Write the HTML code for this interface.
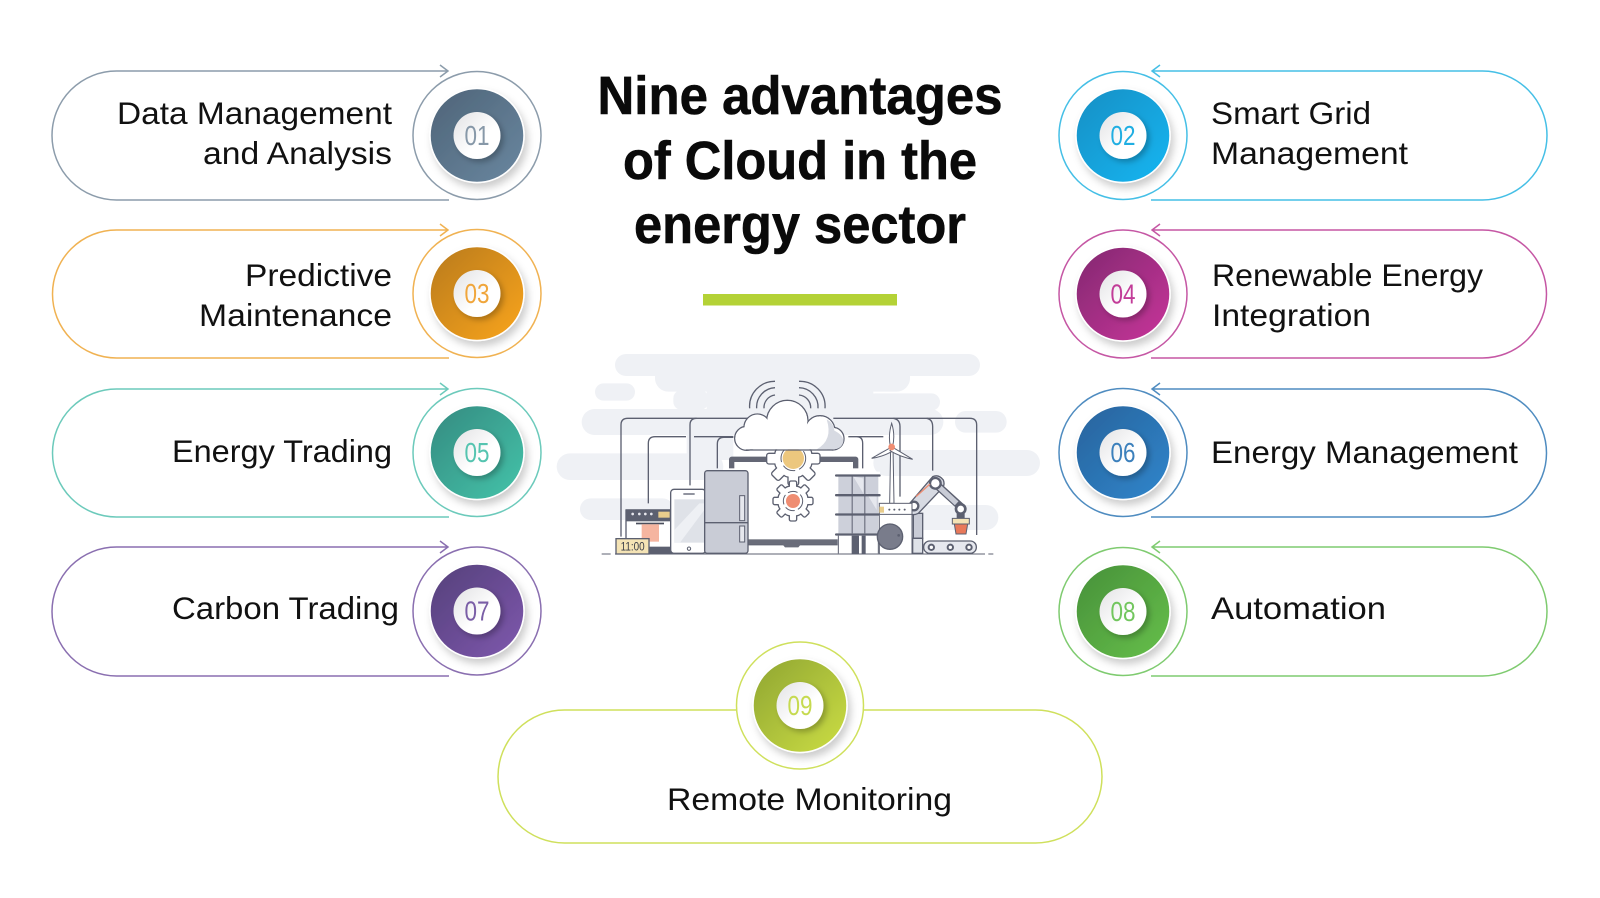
<!DOCTYPE html>
<html><head><meta charset="utf-8"><style>
html,body{margin:0;padding:0;background:#fff;width:1600px;height:898px;overflow:hidden}
svg{display:block}
.t{font-family:"Liberation Sans",sans-serif;font-size:31.5px;fill:#111}
.h{font-family:"Liberation Sans",sans-serif;font-size:54px;font-weight:bold;fill:#0a0a0a;stroke:#0a0a0a;stroke-width:.6;text-anchor:middle}
.n{font-family:"Liberation Sans",sans-serif;font-size:28px;text-anchor:middle}
.w{fill:none;stroke:#5c6070;stroke-width:4}
.l{stroke:#5c6070;stroke-width:4}
</style></head><body>
<svg width="1600" height="898" viewBox="0 0 1600 898" xmlns="http://www.w3.org/2000/svg">
<defs>
<filter id="s" x="-30%" y="-30%" width="170%" height="170%"><feDropShadow dx="3" dy="5" stdDeviation="4" flood-color="#000" flood-opacity=".2"/></filter>
<filter id="s2" x="-40%" y="-40%" width="190%" height="190%"><feDropShadow dx="3" dy="3" stdDeviation="3" flood-color="#000" flood-opacity=".25"/></filter>
<linearGradient id="in" x1="0" y1="0" x2="1" y2="1"><stop offset="0" stop-color="#e2e2e4"/><stop offset=".6" stop-color="#fff"/></linearGradient>
<linearGradient id="g1" x1="0" y1="0" x2="1" y2="1"><stop offset="0" stop-color="#4e6478"/><stop offset="1" stop-color="#6a87a0"/></linearGradient>
<linearGradient id="g2" x1="0" y1="0" x2="1" y2="1"><stop offset="0" stop-color="#1a8fc4"/><stop offset="1" stop-color="#10b6f2"/></linearGradient>
<linearGradient id="g3" x1="0" y1="0" x2="1" y2="1"><stop offset="0" stop-color="#b87a1c"/><stop offset="1" stop-color="#faa51e"/></linearGradient>
<linearGradient id="g4" x1="0" y1="0" x2="1" y2="1"><stop offset="0" stop-color="#822a70"/><stop offset="1" stop-color="#c8339a"/></linearGradient>
<linearGradient id="g5" x1="0" y1="0" x2="1" y2="1"><stop offset="0" stop-color="#348a80"/><stop offset="1" stop-color="#45c4aa"/></linearGradient>
<linearGradient id="g6" x1="0" y1="0" x2="1" y2="1"><stop offset="0" stop-color="#28639c"/><stop offset="1" stop-color="#3086cc"/></linearGradient>
<linearGradient id="g7" x1="0" y1="0" x2="1" y2="1"><stop offset="0" stop-color="#54407a"/><stop offset="1" stop-color="#7f58ae"/></linearGradient>
<linearGradient id="g8" x1="0" y1="0" x2="1" y2="1"><stop offset="0" stop-color="#47903a"/><stop offset="1" stop-color="#66c04a"/></linearGradient>
<linearGradient id="g9" x1="0" y1="0" x2="1" y2="1"><stop offset="0" stop-color="#8fa532"/><stop offset="1" stop-color="#ccde44"/></linearGradient>
</defs>

<!-- Title -->
<text class="h" x="800" y="114" textLength="405" lengthAdjust="spacingAndGlyphs">Nine advantages</text>
<text class="h" x="800" y="179" textLength="354" lengthAdjust="spacingAndGlyphs">of Cloud in the</text>
<text class="h" x="800" y="243" textLength="332" lengthAdjust="spacingAndGlyphs">energy sector</text>
<rect x="703" y="294" width="194" height="11.5" fill="#b4d236"/>

<!-- Left pills -->
<g fill="none" stroke-width="1.5">
<path stroke="#8c9cab" d="M448 71H116.5A64.5 64.5 0 0 0 116.5 200H449M440 65L448 71L440 77"/>
<path stroke="#f0b252" d="M448 230H116.5A64 64 0 0 0 116.5 358H449M440 224L448 230L440 236"/>
<path stroke="#6ccabb" d="M448 389H116.5A64 64 0 0 0 116.5 517H449M440 383L448 389L440 395"/>
<path stroke="#8a6fb0" d="M448 547H116.5A64.5 64.5 0 0 0 116.5 676H449M440 541L448 547L440 553"/>
<!-- Right pills -->
<path stroke="#45bfe6" d="M1152 71H1482.5A64.5 64.5 0 0 1 1482.5 200H1151M1160 65L1152 71L1160 77"/>
<path stroke="#c557a4" d="M1152 230H1482.5A64 64 0 0 1 1482.5 358H1151M1160 224L1152 230L1160 236"/>
<path stroke="#4f8cc0" d="M1152 389H1482.5A64 64 0 0 1 1482.5 517H1151M1160 383L1152 389L1160 395"/>
<path stroke="#7fcb70" d="M1152 547H1482.5A64.5 64.5 0 0 1 1482.5 676H1151M1160 541L1152 547L1160 553"/>
<!-- Pill 9 -->
<path stroke="#cfe05c" d="M737 710H564.5A66.5 66.5 0 0 0 564.5 843H1035.5A66.5 66.5 0 0 0 1035.5 710H863"/>
</g>

<!-- Badges -->
<g fill="#fff" stroke-width="1.5">
<circle cx="477" cy="135.5" r="64" stroke="#8c9cab"/>
<circle cx="477" cy="293.5" r="64" stroke="#f0b252"/>
<circle cx="477" cy="452.5" r="64" stroke="#6ccabb"/>
<circle cx="477" cy="611" r="64" stroke="#8a6fb0"/>
<circle cx="1123" cy="135.5" r="64" stroke="#45bfe6"/>
<circle cx="1123" cy="294" r="64" stroke="#c557a4"/>
<circle cx="1123" cy="452.5" r="64" stroke="#4f8cc0"/>
<circle cx="1123" cy="611.5" r="64" stroke="#7fcb70"/>
<circle cx="800" cy="705.5" r="63.5" stroke="#cfe05c"/>
</g>
<g filter="url(#s)" stroke="#fff" stroke-width="1.5">
<circle cx="477" cy="135.5" r="47" fill="url(#g1)"/>
<circle cx="477" cy="293.5" r="47" fill="url(#g3)"/>
<circle cx="477" cy="452.5" r="47" fill="url(#g5)"/>
<circle cx="477" cy="611" r="47" fill="url(#g7)"/>
<circle cx="1123" cy="135.5" r="47" fill="url(#g2)"/>
<circle cx="1123" cy="294" r="47" fill="url(#g4)"/>
<circle cx="1123" cy="452.5" r="47" fill="url(#g6)"/>
<circle cx="1123" cy="611.5" r="47" fill="url(#g8)"/>
<circle cx="800" cy="705.5" r="47" fill="url(#g9)"/>
</g>
<g filter="url(#s2)" fill="url(#in)">
<circle cx="477" cy="135.5" r="23.5"/>
<circle cx="477" cy="293.5" r="23.5"/>
<circle cx="477" cy="452.5" r="23.5"/>
<circle cx="477" cy="611" r="23.5"/>
<circle cx="1123" cy="135.5" r="23.5"/>
<circle cx="1123" cy="294" r="23.5"/>
<circle cx="1123" cy="452.5" r="23.5"/>
<circle cx="1123" cy="611.5" r="23.5"/>
<circle cx="800" cy="705.5" r="23.5"/>
</g>
<g class="nums">
<text class="n" fill="#8798a8" x="477" y="145" textLength="25" lengthAdjust="spacingAndGlyphs">01</text>
<text class="n" fill="#f0a63c" x="477" y="303" textLength="25" lengthAdjust="spacingAndGlyphs">03</text>
<text class="n" fill="#55c4b0" x="477" y="462" textLength="25" lengthAdjust="spacingAndGlyphs">05</text>
<text class="n" fill="#7a5ea6" x="477" y="620.5" textLength="25" lengthAdjust="spacingAndGlyphs">07</text>
<text class="n" fill="#20aee2" x="1123" y="145" textLength="25" lengthAdjust="spacingAndGlyphs">02</text>
<text class="n" fill="#c23c98" x="1123" y="303.5" textLength="25" lengthAdjust="spacingAndGlyphs">04</text>
<text class="n" fill="#3c80bc" x="1123" y="462" textLength="25" lengthAdjust="spacingAndGlyphs">06</text>
<text class="n" fill="#72c65e" x="1123" y="621" textLength="25" lengthAdjust="spacingAndGlyphs">08</text>
<text class="n" fill="#c6da50" x="800" y="715" textLength="25" lengthAdjust="spacingAndGlyphs">09</text>
</g>

<!-- Labels -->
<g class="labels">
<text class="t" x="117" y="124" textLength="275" lengthAdjust="spacingAndGlyphs">Data Management</text>
<text class="t" x="203" y="164" textLength="189" lengthAdjust="spacingAndGlyphs">and Analysis</text>
<text class="t" x="245" y="286" textLength="147" lengthAdjust="spacingAndGlyphs">Predictive</text>
<text class="t" x="199" y="326" textLength="193" lengthAdjust="spacingAndGlyphs">Maintenance</text>
<text class="t" x="172" y="462" textLength="220" lengthAdjust="spacingAndGlyphs">Energy Trading</text>
<text class="t" x="172" y="619" textLength="227" lengthAdjust="spacingAndGlyphs">Carbon Trading</text>
<text class="t" x="1211" y="124" textLength="160" lengthAdjust="spacingAndGlyphs">Smart Grid</text>
<text class="t" x="1211" y="164" textLength="197" lengthAdjust="spacingAndGlyphs">Management</text>
<text class="t" x="1212" y="286" textLength="271" lengthAdjust="spacingAndGlyphs">Renewable Energy</text>
<text class="t" x="1212" y="326" textLength="159" lengthAdjust="spacingAndGlyphs">Integration</text>
<text class="t" x="1211" y="463" textLength="307" lengthAdjust="spacingAndGlyphs">Energy Management</text>
<text class="t" x="1211" y="619" textLength="175" lengthAdjust="spacingAndGlyphs">Automation</text>
<text class="t" x="667" y="810" textLength="285" lengthAdjust="spacingAndGlyphs">Remote Monitoring</text>
</g>

<!-- Illustration (coordinates at 3x) -->
<g transform="translate(540 340) scale(.33333)">
<g fill="#eff1f5">
<rect x="225" y="42" width="1095" height="66" rx="33"/>
<rect x="345" y="70" width="765" height="85" rx="40"/>
<rect x="165" y="130" width="120" height="52" rx="26"/>
<rect x="400" y="150" width="105" height="60" rx="25"/>
<rect x="500" y="120" width="500" height="100"/>
<rect x="980" y="160" width="220" height="52" rx="26"/>
<rect x="125" y="207" width="1085" height="78" rx="39"/>
<rect x="1245" y="213" width="155" height="65" rx="32"/>
<rect x="440" y="270" width="140" height="90"/>
<rect x="50" y="340" width="500" height="80" rx="40"/>
<rect x="1000" y="330" width="500" height="78" rx="39"/>
<rect x="120" y="475" width="280" height="65" rx="32"/>
<rect x="1100" y="495" width="275" height="75" rx="37"/>
</g>
<!-- wires -->
<g class="w">
<path d="M243 590V255Q243 235 263 235H622"/>
<path d="M325 490V310Q325 290 345 290H438M462 290H580"/>
<path d="M450 436V255Q450 235 470 235"/>
<path d="M532 385V312Q532 292 552 292H580"/>
<path d="M880 235H1290Q1310 235 1310 255V585"/>
<path d="M925 290H950Q968 290 968 310V385M950 290H1030"/>
<path d="M1060 235Q1080 238 1080 260V470"/>
<path d="M1160 235Q1178 238 1178 260V392"/>
<!-- signal -->
<path d="M629 205A75 75 0 0 1 705 124"/>
<path d="M650 205A58 58 0 0 1 705 143"/>
<path d="M672 205A38 38 0 0 1 705 165"/>
<path d="M855 205A75 75 0 0 0 777 124"/>
<path d="M834 205A58 58 0 0 0 777 143"/>
<path d="M812 205A38 38 0 0 0 777 165"/>
</g>
<!-- laptop -->
<rect x="575" y="358" width="372" height="250" fill="#fff" stroke="#646775" stroke-width="16" stroke-linejoin="round"/>
<rect x="560" y="385" width="50" height="250" fill="#fff"/>
<rect x="915" y="385" width="50" height="250" fill="#fff"/>
<rect x="625" y="598" width="270" height="14" fill="#6a6d7a"/>
<path d="M725 610H785L775 622H735Z" fill="#6a6d7a"/>
<!-- upper gear -->
<g fill="#fff" stroke="#5c6070" stroke-width="4">
<circle cx="760" cy="356" r="58"/>
<rect x="744" y="276" width="32" height="40" rx="7" transform="rotate(0 760 356)"/>
<rect x="744" y="276" width="32" height="40" rx="7" transform="rotate(45 760 356)"/>
<rect x="744" y="276" width="32" height="40" rx="7" transform="rotate(90 760 356)"/>
<rect x="744" y="276" width="32" height="40" rx="7" transform="rotate(135 760 356)"/>
<rect x="744" y="276" width="32" height="40" rx="7" transform="rotate(180 760 356)"/>
<rect x="744" y="276" width="32" height="40" rx="7" transform="rotate(225 760 356)"/>
<rect x="744" y="276" width="32" height="40" rx="7" transform="rotate(270 760 356)"/>
<rect x="744" y="276" width="32" height="40" rx="7" transform="rotate(315 760 356)"/>
<circle cx="760" cy="356" r="56" stroke="none"/>
</g>
<circle cx="760" cy="355" r="37" fill="none" stroke="#5c6070" stroke-width="3" stroke-dasharray="40 12"/>
<circle cx="760" cy="355" r="32" fill="#ecc77e"/>
<!-- lower gear -->
<g fill="#fff" stroke="#5c6070" stroke-width="4">
<circle cx="759" cy="483" r="46"/>
<rect x="748" y="423" width="22" height="30" rx="5" transform="rotate(0 759 483)"/>
<rect x="748" y="423" width="22" height="30" rx="5" transform="rotate(45 759 483)"/>
<rect x="748" y="423" width="22" height="30" rx="5" transform="rotate(90 759 483)"/>
<rect x="748" y="423" width="22" height="30" rx="5" transform="rotate(135 759 483)"/>
<rect x="748" y="423" width="22" height="30" rx="5" transform="rotate(180 759 483)"/>
<rect x="748" y="423" width="22" height="30" rx="5" transform="rotate(225 759 483)"/>
<rect x="748" y="423" width="22" height="30" rx="5" transform="rotate(270 759 483)"/>
<rect x="748" y="423" width="22" height="30" rx="5" transform="rotate(315 759 483)"/>
<circle cx="759" cy="483" r="44" stroke="none"/>
</g>
<circle cx="759" cy="483" r="29" fill="none" stroke="#5c6070" stroke-width="3" stroke-dasharray="30 10"/>
<circle cx="759" cy="483" r="21" fill="#ef8d72"/>
<!-- cloud -->
<g fill="#fff" stroke="#5c6070" stroke-width="4">
<circle cx="620" cy="295" r="36"/><circle cx="652" cy="262" r="40"/><circle cx="742" cy="243" r="62"/><circle cx="840" cy="272" r="45"/><circle cx="878" cy="296" r="34"/>
</g>
<g fill="#fff">
<circle cx="620" cy="295" r="34"/><circle cx="652" cy="262" r="38"/><circle cx="742" cy="243" r="60"/><circle cx="840" cy="272" r="43"/><circle cx="878" cy="296" r="32"/>
<rect x="620" y="260" width="258" height="68"/>
</g>
<path d="M860 238A43 43 0 0 1 883 272Q910 285 910 305Q905 328 878 328H830Q880 300 860 238Z" fill="#d7dae2"/>
<path d="M618 330H880" class="w"/>
<!-- oven -->
<rect x="258" y="510" width="136" height="130" fill="#fff" stroke="#5c6070" stroke-width="4"/>
<rect x="258" y="508" width="136" height="36" fill="#5c6070"/>
<rect x="355" y="515" width="34" height="18" fill="#e9cd8c"/>
<g fill="#e8e8ee"><circle cx="278" cy="522" r="4"/><circle cx="298" cy="522" r="4"/><circle cx="316" cy="522" r="4"/><circle cx="334" cy="522" r="4"/></g>
<rect x="288" y="548" width="84" height="5" fill="#4a4e5c"/>
<rect x="305" y="553" width="52" height="52" fill="#f5b5a0"/>
<rect x="300" y="620" width="94" height="20" fill="#5c6070"/>
<!-- clock -->
<rect x="228" y="596" width="99" height="46" fill="#f4e3b5" stroke="#5c6070" stroke-width="4"/>
<text x="278" y="631" font-family="'Liberation Sans',sans-serif" font-size="36" fill="#3a3d48" text-anchor="middle" textLength="72" lengthAdjust="spacingAndGlyphs">11:00</text>
<!-- tablet -->
<rect x="392" y="448" width="105" height="192" rx="10" fill="#fff" stroke="#5c6070" stroke-width="4"/>
<rect x="403" y="478" width="90" height="130" fill="#dfe2e8"/>
<path d="M403 570L478 490H493V510L420 608H403Z" fill="#eef0f4"/>
<rect x="430" y="460" width="34" height="4" fill="#5c6070"/>
<circle cx="447" cy="626" r="5" fill="none" stroke="#5c6070" stroke-width="3"/>
<!-- fridge -->
<rect x="494" y="392" width="130" height="248" rx="8" fill="#c9ccd6" stroke="#5c6070" stroke-width="4"/>
<path d="M494 548H624" class="l"/>
<rect x="599" y="467" width="15" height="75" fill="#e6e8ee" stroke="#5c6070" stroke-width="3"/>
<rect x="599" y="558" width="15" height="48" fill="#e6e8ee" stroke="#5c6070" stroke-width="3"/>
<!-- turbine -->
<path d="M1049 490L1052 320H1059L1062 490Z" fill="#fff" stroke="#5c6070" stroke-width="3"/>
<g fill="#fff" stroke="#5c6070" stroke-width="3">
<path d="M1055 250Q1066 285 1058 318H1051Q1044 285 1055 250Z"/>
<path d="M1053 322L995 355Q1030 350 1060 332Z"/>
<path d="M1058 322L1118 358Q1080 350 1050 332Z"/>
</g>
<circle cx="1055" cy="321" r="10" fill="#ef8d72"/>
<!-- building -->
<rect x="893" y="395" width="127" height="245" fill="#fff"/>
<rect x="895" y="405" width="120" height="175" fill="#cdd0da"/>
<rect x="935" y="405" width="3" height="175" fill="#5c6070"/><rect x="973" y="405" width="3" height="175" fill="#5c6070"/>
<path d="M940 410L970 460V415ZM980 460L1010 510V470Z" fill="#e6e8ee"/>
<g fill="#5c6070"><rect x="885" y="403" width="137" height="7" rx="3"/><rect x="885" y="462" width="137" height="7" rx="3"/><rect x="885" y="520" width="137" height="7" rx="3"/><rect x="885" y="580" width="137" height="7" rx="3"/>
<rect x="935" y="587" width="22" height="55"/><rect x="965" y="587" width="12" height="55"/></g>
<path d="M895 587V640M1015 587V640" class="l" style="stroke-width:3"/>
<!-- robot -->
<g stroke="#5c6070" stroke-width="4">
<rect x="1120" y="520" width="28" height="75" fill="#c9ccd6"/>
<rect x="1118" y="595" width="30" height="45" fill="#dfe2e8"/>
<path d="M1105 495L1178 410Q1196 402 1210 420Q1216 436 1205 446L1135 520Q1115 530 1100 515Q1095 503 1105 495Z" fill="#d7dae2"/>
<path d="M1196 440L1262 500" stroke-width="24" stroke="#5c6070"/>
<path d="M1196 440L1250 490" stroke-width="16" stroke="#c9ccd6"/>
</g>
<circle cx="1186" cy="430" r="16" fill="#fff" stroke="#5c6070" stroke-width="7"/>
<circle cx="1122" cy="498" r="13" fill="#fff" stroke="#5c6070" stroke-width="7"/>
<circle cx="1262" cy="507" r="14" fill="#fff" stroke="#5c6070" stroke-width="8"/>
<path d="M1128 470L1170 432" stroke="#ef8d72" stroke-width="4"/>
<rect x="1250" y="520" width="24" height="16" fill="#5c6070"/>
<path d="M1237 535H1288V552H1237Z" fill="#f4e3b5" stroke="#5c6070" stroke-width="3"/>
<path d="M1243 552H1283L1278 582H1248Z" fill="#e8795a" stroke="#5c6070" stroke-width="3"/>
<!-- washer -->
<rect x="1018" y="490" width="98" height="152" fill="#fff" stroke="#5c6070" stroke-width="3"/>
<rect x="1018" y="500" width="14" height="18" fill="#e9cd8c"/>
<g fill="#5c6070"><circle cx="1048" cy="509" r="3"/><circle cx="1063" cy="509" r="3"/><circle cx="1078" cy="509" r="3"/><circle cx="1094" cy="509" r="3"/></g>
<path d="M1018 523H1116" class="l" style="stroke-width:3"/>
<circle cx="1050" cy="590" r="38" fill="#797c8b" stroke="#5c6070" stroke-width="4"/>
<circle cx="1076" cy="586" r="4" fill="#5c6070"/>
<!-- conveyor -->
<rect x="1151" y="603" width="158" height="37" rx="18" fill="#e6e8ee" stroke="#5c6070" stroke-width="4"/>
<g fill="#fff" stroke="#5c6070" stroke-width="6"><circle cx="1174" cy="622" r="8"/><circle cx="1231" cy="622" r="8"/><circle cx="1287" cy="622" r="8"/></g>
<!-- ground -->
<path d="M225 642H1335M185 642H212M1345 642H1360" class="l" style="stroke-width:3"/>
</g>
</svg>
</body></html>
